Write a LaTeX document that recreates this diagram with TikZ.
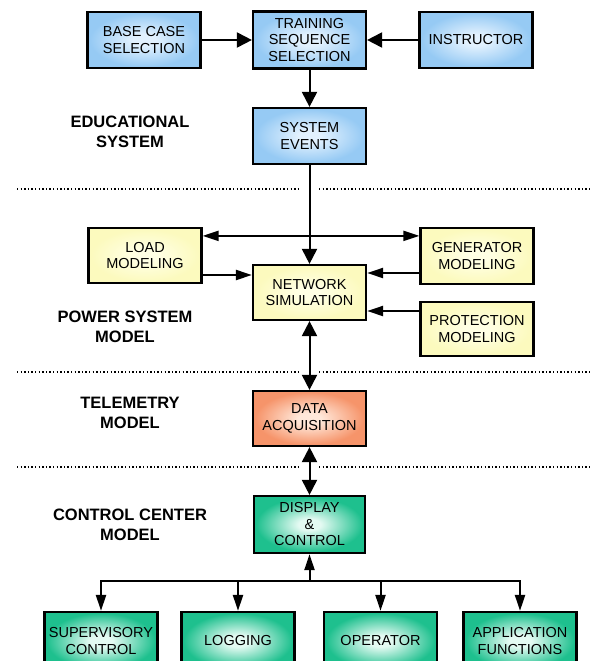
\documentclass[tikz,border=0pt]{standalone}
\usepackage{fontspec}
\setmainfont{Liberation Sans}
\usetikzlibrary{arrows.meta}

\definecolor{bluein}{RGB}{226,241,254}
\definecolor{blueout}{RGB}{150,202,244}
\definecolor{yellowin}{RGB}{255,255,228}
\definecolor{yellowout}{RGB}{252,250,190}
\definecolor{orangein}{RGB}{255,232,218}
\definecolor{orangeout}{RGB}{246,148,106}
\definecolor{greenin}{RGB}{228,250,242}
\definecolor{greenout}{RGB}{30,192,142}

\newcommand\boxshading[3]{\pgfdeclareradialshading{#1}{\pgfpoint{0bp}{0bp}}{color(0bp)=(#2);color(5bp)=(#2);color(24bp)=(#3);color(50bp)=(#3)}}
\boxshading{edush}{bluein}{blueout}
\boxshading{psmsh}{yellowin}{yellowout}
\boxshading{telsh}{orangein}{orangeout}
\boxshading{ccmsh}{greenin}{greenout}

\tikzset{
  box/.style={draw, line width=2.2pt, shade, minimum width=113pt, minimum height=56pt,
    inner sep=0pt, align=center, font=\fontsize{14.5}{16.5}\selectfont},
  edu/.style={box, shading=edush},
  psm/.style={box, shading=psmsh},
  tel/.style={box, shading=telsh},
  ccm/.style={box, shading=ccmsh},
  tag/.style={align=center, font=\bfseries\fontsize{16.5}{20}\selectfont},
  arr/.style={line width=2pt, -{Triangle[length=15pt,width=15pt]}},
  darr/.style={line width=2pt, {Triangle[length=15pt,width=15pt]}-{Triangle[length=15pt,width=15pt]}},
  narr/.style={line width=2pt, -{Triangle[length=16pt,width=10pt]}},
  dnarr/.style={line width=2pt, {Triangle[length=16pt,width=10pt]}-{Triangle[length=16pt,width=10pt]}},
  sep/.style={line width=1.4pt, dash pattern=on 1.4pt off 2.2pt}
}

\begin{document}
\begin{tikzpicture}[x=1pt,y=-1pt]
\useasboundingbox (0,0) rectangle (595,661);
\node[edu] (base) at (144,40) {BASE CASE\\SELECTION};
\node[edu, minimum height=57pt] (train) at (309.5,40) {TRAINING\\SEQUENCE\\SELECTION};
\node[edu] (instr) at (476,40) {INSTRUCTOR};
\node[edu] (events) at (309.5,136) {SYSTEM\\EVENTS};
\node[psm, minimum height=55pt] (load) at (145,255.5) {LOAD\\MODELING};
\node[psm] (gen) at (477,256) {GENERATOR\\MODELING};
\node[psm, minimum height=55pt] (net) at (309.5,292.5) {NETWORK\\SIMULATION};
\node[psm, minimum height=54pt] (prot) at (477,329) {PROTECTION\\MODELING};
\node[tel, minimum height=55pt] (data) at (309.5,418.5) {DATA\\ACQUISITION};
\node[ccm, minimum width=111pt, minimum height=57pt] (disp) at (309.5,524.5) {DISPLAY\\\&\\CONTROL};
\node[ccm, minimum height=58pt] (sup) at (101,641) {SUPERVISORY\\CONTROL};
\node[ccm, minimum height=58pt] (log) at (238,641) {LOGGING};
\node[ccm, minimum height=58pt] (op) at (380.5,641) {OPERATOR};
\node[ccm, minimum height=58pt] (app) at (520,641) {APPLICATION\\FUNCTIONS};
\node[tag] (edutag) at (130,132) {EDUCATIONAL\\SYSTEM};
\node[tag] (psmtag) at (125,327) {POWER SYSTEM\\MODEL};
\node[tag] (teltag) at (130,413) {TELEMETRY\\MODEL};
\node[tag] (ccmtag) at (130,525) {CONTROL CENTER\\MODEL};
\coordinate (bus) at (309.5,581);
\draw[sep] (17,189) -- (299,189) (319,189) -- (592,189);
\draw[sep] (17,372) -- (299,372) (319,372) -- (592,372);
\draw[sep] (17,467) -- (299,467) (319,467) -- (592,467);
\draw[arr] (base) -- (train);
\draw[arr] (instr) -- (train);
\draw[arr] (train) -- (events);
\draw[arr] (events) -- (net);
\draw[dnarr] ([yshift=-9pt]load.north east) -- ([yshift=-9pt]gen.north west);
\draw[narr] ([yshift=-19.5pt]load.east) -- ([yshift=-19.5pt]load.east -| net.west);
\draw[narr] ([yshift=-17pt]gen.west) -- ([yshift=-17pt]gen.west -| net.east);
\draw[narr] ([yshift=18pt]prot.west) -- ([yshift=18pt]prot.west -| net.east);
\draw[darr] (net) -- (data);
\draw[darr] (data) -- (disp);
\draw[narr] (bus) -- (disp);
\draw[narr] (bus) -| (sup.north);
\draw[narr] (bus) -| (log.north);
\draw[narr] (bus) -| (op.north);
\draw[narr] (bus) -| (app.north);
\end{tikzpicture}
\end{document}
